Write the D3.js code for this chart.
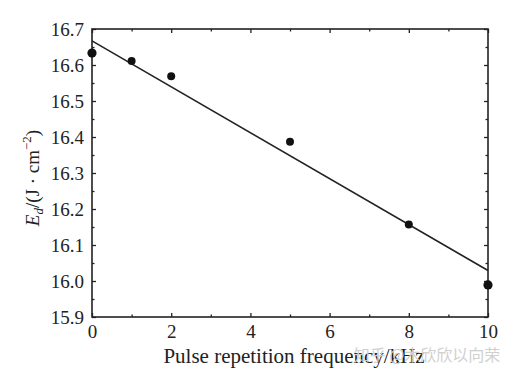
<!DOCTYPE html>
<html><head><meta charset="utf-8">
<script src="https://cdn.jsdelivr.net/npm/d3@7"></script>
<style>
html,body{margin:0;padding:0;background:#fff;}
svg{display:block;}
text{font-family:"Liberation Serif","Times New Roman",serif;fill:#222;}
</style></head>
<body>
<svg id="chart" width="509" height="376"></svg>
<script>
// Data
const freq = [0, 1, 2, 5, 8, 10];               // kHz
const energy = [16.633, 16.611, 16.569, 16.387, 16.157, 15.989]; // J/cm^2
const fitX = [0, 10];
const fitY = [16.667, 16.029];
const xTicks = [0, 2, 4, 6, 8, 10];
const yTicks = [15.9, 16.0, 16.1, 16.2, 16.3, 16.4, 16.5, 16.6, 16.7];
const xLabel = "Pulse repetition frequency/kHz";
const watermark = "知乎 @木欣欣以向荣";

const svg = d3.select("#chart");
const m = {left: 92, right: 509 - 488, top: 29, bottom: 376 - 317};
const W = 509, H = 376;
const x = d3.scaleLinear().domain([0, 10]).range([m.left, W - m.right]);
const y = d3.scaleLinear().domain([15.9, 16.7]).range([H - m.bottom, m.top]);

const ink = "#222";
const g = svg.append("g");

// frame
g.append("rect").attr("x", x(0)).attr("y", y(16.7))
  .attr("width", x(10) - x(0)).attr("height", y(15.9) - y(16.7))
  .attr("fill", "none").attr("stroke", ink).attr("stroke-width", 1.6);

const xMinor = d3.range(1, 10, 2);
const yMinor = d3.range(15.95, 16.7, 0.1);

function styleAxis(sel) {
  sel.attr("font-family", '"Liberation Serif", serif');
  sel.select(".domain").remove();
  sel.selectAll(".tick line").attr("stroke", ink).attr("stroke-width", 1.3);
  sel.selectAll(".tick text").attr("font-size", 19).attr("fill", "#222")
    .style("font-family", '"Liberation Serif", serif');
}

const axBottom = g.append("g").attr("transform", `translate(0,${y(15.9)})`)
  .call(d3.axisBottom(x).tickValues(xTicks).tickSize(-4).tickPadding(8).tickFormat(d3.format("d")));
styleAxis(axBottom);
const axBottomMinor = g.append("g").attr("transform", `translate(0,${y(15.9)})`)
  .call(d3.axisBottom(x).tickValues(xMinor).tickSize(-2.5).tickFormat(""));
styleAxis(axBottomMinor);

const axTop = g.append("g").attr("transform", `translate(0,${y(16.7)})`)
  .call(d3.axisTop(x).tickValues(xTicks).tickSize(-4).tickFormat(""));
styleAxis(axTop);
const axTopMinor = g.append("g").attr("transform", `translate(0,${y(16.7)})`)
  .call(d3.axisTop(x).tickValues(xMinor).tickSize(-2.5).tickFormat(""));
styleAxis(axTopMinor);

const axLeft = g.append("g").attr("transform", `translate(${x(0)},0)`)
  .call(d3.axisLeft(y).tickValues(yTicks).tickSize(-4).tickPadding(8).tickFormat(d3.format(".1f")));
styleAxis(axLeft);
const axLeftMinor = g.append("g").attr("transform", `translate(${x(0)},0)`)
  .call(d3.axisLeft(y).tickValues(yMinor).tickSize(-2.5).tickFormat(""));
styleAxis(axLeftMinor);

const axRight = g.append("g").attr("transform", `translate(${x(10)},0)`)
  .call(d3.axisRight(y).tickValues(yTicks).tickSize(-4).tickFormat(""));
styleAxis(axRight);
const axRightMinor = g.append("g").attr("transform", `translate(${x(10)},0)`)
  .call(d3.axisRight(y).tickValues(yMinor).tickSize(-2.5).tickFormat(""));
styleAxis(axRightMinor);

// fit line
g.append("path")
  .datum(fitX.map((d, i) => [d, fitY[i]]))
  .attr("d", d3.line().x(d => x(d[0])).y(d => y(d[1])))
  .attr("fill", "none").attr("stroke", ink).attr("stroke-width", 1.6);

// points
g.selectAll("circle.pt").data(freq.map((d, i) => [d, energy[i]]))
  .enter().append("circle").attr("class", "pt")
  .attr("cx", d => x(d[0])).attr("cy", d => y(d[1]))
  .attr("r", (d, i) => (i === 0 || i === freq.length - 1) ? 4.6 : 4)
  .attr("fill", "#111");

// x label
svg.append("text").attr("x", 294).attr("y", 363)
  .attr("text-anchor", "middle").attr("font-size", 21).text(xLabel);

// y label
const yl = svg.append("text")
  .attr("transform", "translate(39,178) rotate(-90)")
  .attr("text-anchor", "middle").attr("font-size", 19);
yl.append("tspan").attr("font-style", "italic").text("E");
yl.append("tspan").attr("font-style", "italic").attr("font-size", 13).attr("dy", 4).text("d");
yl.append("tspan").attr("dy", -4).text("/(J · cm");
yl.append("tspan").attr("font-size", 13).attr("dy", -8).text("−2");
yl.append("tspan").attr("dy", 8).text(")");

// watermark
svg.append("text").attr("x", 427).attr("y", 361).attr("text-anchor", "middle")
  .attr("font-size", 16).style("font-family", '"Noto Sans CJK SC", sans-serif')
  .style("fill", "#d0d0d0").text(watermark);
</script>
</body></html>
